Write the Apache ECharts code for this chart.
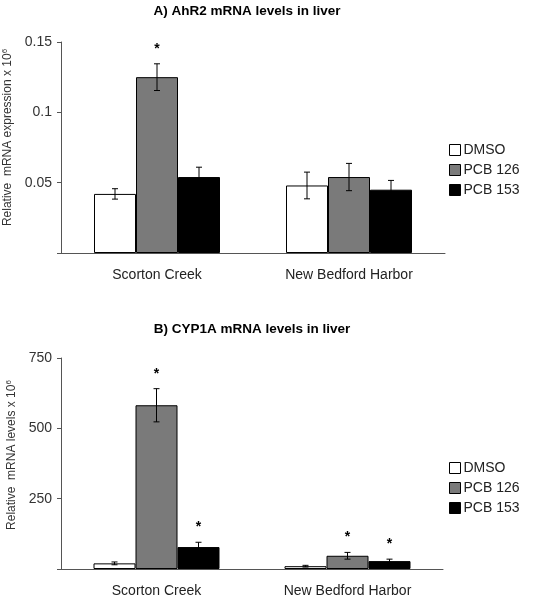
<!DOCTYPE html>
<html>
<head>
<meta charset="utf-8">
<script src="https://cdn.jsdelivr.net/npm/echarts@6/dist/echarts.min.js"></script>
<style>html,body{margin:0;padding:0;background:#fff;}#c{width:557px;height:599px;}</style>
</head>
<body>
<div id="c"></div>
<script>
const categories = ['Scorton Creek', 'New Bedford Harbor'];
const groups = ['DMSO', 'PCB 126', 'PCB 153'];
const groupColors = ['#ffffff', '#7a7a7a', '#000000'];

// Panel A: AhR2 (per group: [Scorton Creek, New Bedford Harbor])
const ahr2Means = [[0.042, 0.048], [0.125, 0.054], [0.054, 0.045]];
const ahr2Errors = [[0.0037, 0.0095], [0.0095, 0.0097], [0.007, 0.0066]];
const ahr2Sig = [[0, 0], [1, 0], [0, 0]];
const ahr2Ticks = [0, 0.05, 0.1, 0.15];

// Panel B: CYP1A
const cyp1aMeans = [[20, 10], [582, 47], [78, 28]];
const cyp1aErrors = [[5, 3], [59, 12], [17, 7]];
const cyp1aSig = [[0, 0], [1, 1], [1, 1]];
const cyp1aTicks = [0, 250, 500, 750];

const FONT = 'Liberation Sans, Arial, sans-serif';
const chart = echarts.init(document.getElementById('c'), null, {renderer: 'canvas'});

const BAR_W = 42;
const offsets = [-BAR_W, 0, BAR_W];

function errRender(offset) {
  return function (params, api) {
    const ci = api.value(0), m = api.value(1), e = api.value(2), s = api.value(3);
    const c = api.coord([ci, m]);
    const hi = api.coord([ci, m + e]);
    const lo = api.coord([ci, m - e]);
    const x = c[0] + offset;
    const st = {stroke: '#000', lineWidth: 1};
    const children = [
      {type: 'line', shape: {x1: x, y1: hi[1], x2: x, y2: lo[1]}, style: st},
      {type: 'line', shape: {x1: x - 3, y1: hi[1], x2: x + 3, y2: hi[1]}, style: st},
      {type: 'line', shape: {x1: x - 3, y1: lo[1], x2: x + 3, y2: lo[1]}, style: st}
    ];
    if (s) {
      children.push({type: 'text', style: {text: '*', x: x, y: hi[1] - 15, align: 'center', verticalAlign: 'middle',
        font: 'bold 14px ' + FONT, fill: '#000'}});
    }
    return {type: 'group', children: children};
  };
}

function buildSeries(means, errors, sig, axisIdx) {
  const out = [];
  groups.forEach((g, gi) => {
    out.push({
      type: 'bar', name: g, xAxisIndex: axisIdx, yAxisIndex: axisIdx,
      data: means[gi], barWidth: BAR_W, barGap: '0%',
      itemStyle: {color: groupColors[gi], borderColor: '#000', borderWidth: 1},
      emphasis: {disabled: true}, animation: false
    });
  });
  groups.forEach((g, gi) => {
    out.push({
      type: 'custom', name: 'err' + axisIdx + '_' + gi, xAxisIndex: axisIdx, yAxisIndex: axisIdx,
      renderItem: errRender(offsets[gi]), z: 5,
      encode: {x: 0, y: 1},
      data: categories.map((c, ci) => [ci, means[gi][ci], errors[gi][ci], sig[gi][ci]]),
      animation: false, silent: true
    });
  });
  return out;
}

const axisLine = {show: true, lineStyle: {color: '#555', width: 1}};

function yAxis(gridIndex, ticks, name, pad) {
  return {
    type: 'value', gridIndex: gridIndex, min: ticks[0], max: ticks[ticks.length - 1],
    interval: ticks[1] - ticks[0],
    axisLine: axisLine, axisTick: {show: true, length: 4, lineStyle: {color: '#555'}},
    splitLine: {show: false},
    axisLabel: {fontSize: 14, fontFamily: FONT, color: '#333', margin: 9,
      formatter: v => v === 0 ? '' : String(v)},
    name: name, nameLocation: 'middle', nameGap: 40,
    nameTextStyle: {fontSize: 12, fontFamily: FONT, color: '#333', padding: pad,
      rich: {sup: {fontSize: 8, fontFamily: FONT, color: '#333', verticalAlign: 'top', padding: [0, 0, 6, 0]}}}
  };
}

function xAxis(gridIndex) {
  return {
    type: 'category', gridIndex: gridIndex, data: categories,
    axisLine: axisLine, axisTick: {show: false},
    axisLabel: {fontSize: 14, fontFamily: FONT, color: '#222', margin: 15}
  };
}

function legend(top) {
  return {
    data: groups, orient: 'vertical', left: 449, top: top, itemWidth: 11, itemHeight: 11,
    itemGap: 6, icon: 'rect', selectedMode: false, padding: 0,
    itemStyle: {borderColor: '#000', borderWidth: 1},
    textStyle: {fontSize: 14, fontFamily: FONT, color: '#222', padding: [0, 0, 0, -2]}
  };
}

const option = {
  backgroundColor: '#fff',
  animation: false,
  title: [
    {text: 'A) AhR2 mRNA levels in liver', left: 247, top: 4, textAlign: 'center', padding: 0,
      textStyle: {fontSize: 13.5, fontWeight: 'bold', fontFamily: FONT, color: '#000'}},
    {text: 'B) CYP1A mRNA levels in liver', left: 252, top: 322, textAlign: 'center', padding: 0,
      textStyle: {fontSize: 13.5, fontWeight: 'bold', fontFamily: FONT, color: '#000'}}
  ],
  legend: [legend(143), legend(461)],
  grid: [
    {left: 61, right: 112, top: 42, bottom: 346, outerBoundsMode: 'none', containLabel: false},
    {left: 61, right: 114, top: 358, bottom: 30, outerBoundsMode: 'none', containLabel: false}
  ],
  xAxis: [xAxis(0), xAxis(1)],
  yAxis: [
    yAxis(0, ahr2Ticks, 'Relative  mRNA expression x 10{sup|6}', [0, 0, 0, 20]),
    yAxis(1, cyp1aTicks, 'Relative  mRNA levels x 10{sup|6}', [0, 0, 0, 17])
  ],
  series: buildSeries(ahr2Means, ahr2Errors, ahr2Sig, 0).concat(buildSeries(cyp1aMeans, cyp1aErrors, cyp1aSig, 1))
};
chart.setOption(option);
</script>
</body>
</html>
